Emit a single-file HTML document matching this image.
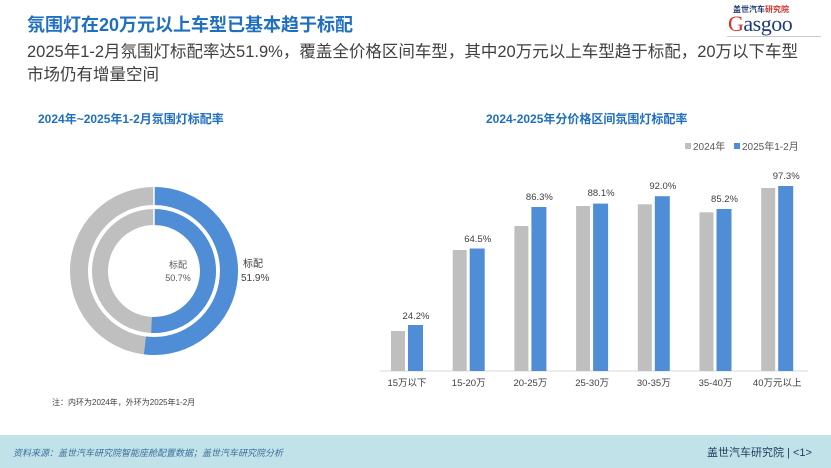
<!DOCTYPE html>
<html><head><meta charset="utf-8"><style>
body{margin:0;width:831px;height:468px;overflow:hidden;background:#fff;font-family:"Liberation Sans","Noto Sans CJK SC",sans-serif;position:relative}
.t{position:absolute;white-space:nowrap}
</style></head><body>
<div class="t" style="left:27px;top:11px;font-size:18px;font-weight:bold;color:#1f6fc0">氛围灯在20万元以上车型已基本趋于标配</div>
<div class="t" style="left:27px;top:41px;font-size:16.5px;color:#404040;line-height:23px">2025年1-2月氛围灯标配率达51.9%，覆盖全价格区间车型，其中20万元以上车型趋于标配，20万以下车型<br>市场仍有增量空间</div>
<div class="t" style="left:733px;top:4px;font-size:8px;color:#1f3c7a;font-weight:bold">盖世汽车<span style="color:#d9302a">研究院</span></div>
<div class="t" style="left:728px;top:11px;font-size:22px;color:#1f3c7a;font-family:'Liberation Serif',serif;letter-spacing:-0.5px"><span style="color:#d9302a">G</span>asgoo</div>
<div class="t" style="left:727px;top:36px;width:94px;height:1px;background:#ccc"></div>
<div class="t" style="left:38px;top:110px;font-size:12px;font-weight:bold;color:#1f6fc0">2024年~2025年1-2月氛围灯标配率</div>
<div class="t" style="left:486px;top:110px;font-size:12px;font-weight:bold;color:#1f6fc0">2024-2025年分价格区间氛围灯标配率</div>
<svg style="position:absolute;left:0;top:0" width="831" height="468">
<g transform="translate(154,271)">
<circle r="75" fill="none" stroke="#bfbfbf" stroke-width="18"/>
<circle r="75" fill="none" stroke="#4f8ed6" stroke-width="18" stroke-dasharray="244.6 471.2" transform="rotate(-90)"/>
<circle r="54" fill="none" stroke="#bfbfbf" stroke-width="16"/>
<circle r="54" fill="none" stroke="#4f8ed6" stroke-width="16" stroke-dasharray="172 339.3" transform="rotate(-90)"/>
<line x1="0" y1="-84" x2="0" y2="-46" stroke="#fff" stroke-width="1.5"/>
</g>
<text x="178" y="268" font-size="9" fill="#595959" text-anchor="middle">标配</text>
<text x="178" y="281" font-size="9" fill="#595959" text-anchor="middle">50.7%</text>
<text x="243" y="267" font-size="10" fill="#404040">标配</text>
<text x="241" y="281" font-size="10" fill="#404040">51.9%</text>
<line x1="380" y1="371" x2="808" y2="371" stroke="#d9d9d9"/>
<g font-size="9.5" fill="#404040" text-anchor="middle">
<rect x="391" y="331" width="14" height="40" fill="#bfbfbf"/><rect x="408" y="325" width="15" height="46" fill="#4f8ed6"/><text x="416" y="319">24.2%</text><text x="407" y="386">15万以下</text>
<rect x="452.7" y="250" width="14" height="121" fill="#bfbfbf"/><rect x="469.7" y="248.5" width="15" height="122.5" fill="#4f8ed6"/><text x="477.7" y="242">64.5%</text><text x="468.7" y="386">15-20万</text>
<rect x="514.4" y="226" width="14" height="145" fill="#bfbfbf"/><rect x="531.4" y="207" width="15" height="164" fill="#4f8ed6"/><text x="539.4" y="200">86.3%</text><text x="530.4" y="386">20-25万</text>
<rect x="576.1" y="206" width="14" height="165" fill="#bfbfbf"/><rect x="593.1" y="203.6" width="15" height="167.4" fill="#4f8ed6"/><text x="601.1" y="196">88.1%</text><text x="592.1" y="386">25-30万</text>
<rect x="637.8" y="204.3" width="14" height="166.7" fill="#bfbfbf"/><rect x="654.8" y="196.2" width="15" height="174.8" fill="#4f8ed6"/><text x="662.8" y="189">92.0%</text><text x="653.8" y="386">30-35万</text>
<rect x="699.5" y="212.3" width="14" height="158.7" fill="#bfbfbf"/><rect x="716.5" y="209" width="15" height="162" fill="#4f8ed6"/><text x="724.5" y="202">85.2%</text><text x="715.5" y="386">35-40万</text>
<rect x="761.2" y="188" width="14" height="183" fill="#bfbfbf"/><rect x="778.2" y="186" width="15" height="185" fill="#4f8ed6"/><text x="786.2" y="179">97.3%</text><text x="777.2" y="386">40万元以上</text>
</g>
<rect x="685" y="143" width="6" height="6" fill="#bfbfbf"/><text x="693" y="150" font-size="10" fill="#595959">2024年</text>
<rect x="734" y="143" width="6" height="6" fill="#4f8ed6"/><text x="742" y="150" font-size="10" fill="#595959">2025年1-2月</text>
</svg>
<div class="t" style="left:52px;top:397px;font-size:8px;color:#404040">注：内环为2024年，外环为2025年1-2月</div>
<div style="position:absolute;left:0;top:435px;width:831px;height:33px;background:#c2e2ea"></div>
<div class="t" style="left:13px;top:446px;font-size:9px;color:#3a6f9a;font-style:italic">资料来源：盖世汽车研究院智能座舱配置数据；盖世汽车研究院分析</div>
<div class="t" style="left:707px;top:444px;font-size:11px;color:#1f3c5a">盖世汽车研究院 | &lt;1&gt;</div>
</body></html>
